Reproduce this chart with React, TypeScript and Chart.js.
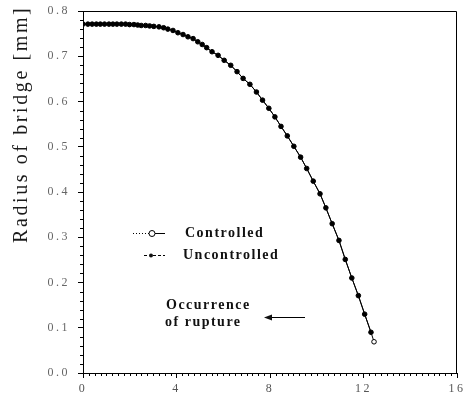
import { useEffect, useRef } from 'react';
import { Chart, registerables } from 'chart.js';
Chart.register(...registerables);

const timeValues = [0, 0.21, 0.39, 0.57, 0.74, 0.92, 1.11, 1.28, 1.45, 1.64, 1.82, 1.99, 2.18, 2.34, 2.49, 2.68, 2.85, 3.03, 3.25, 3.45, 3.63, 3.85, 4.06, 4.28, 4.49, 4.71, 4.91, 5.10, 5.29, 5.52, 5.78, 6.04, 6.32, 6.59, 6.85, 7.14, 7.42, 7.68, 7.95, 8.21, 8.47, 8.74, 9.02, 9.31, 9.57, 9.85, 10.14, 10.39, 10.66, 10.95, 11.22, 11.50, 11.78, 12.05, 12.32, 12.45];

const controlledRadius = [0.771, 0.771, 0.771, 0.771, 0.771, 0.771, 0.771, 0.771, 0.771, 0.771, 0.771, 0.770, 0.770, 0.769, 0.768, 0.768, 0.767, 0.766, 0.765, 0.763, 0.760, 0.757, 0.752, 0.748, 0.743, 0.739, 0.732, 0.726, 0.719, 0.710, 0.702, 0.691, 0.680, 0.666, 0.651, 0.638, 0.621, 0.603, 0.585, 0.566, 0.545, 0.524, 0.501, 0.477, 0.452, 0.424, 0.396, 0.365, 0.330, 0.293, 0.251, 0.210, 0.171, 0.130, 0.090, 0.069];

const uncontrolledRadius = [0.771, 0.771, 0.771, 0.771, 0.771, 0.771, 0.771, 0.771, 0.771, 0.771, 0.771, 0.770, 0.770, 0.769, 0.768, 0.768, 0.767, 0.766, 0.765, 0.763, 0.760, 0.757, 0.752, 0.748, 0.743, 0.739, 0.732, 0.726, 0.719, 0.710, 0.702, 0.691, 0.680, 0.666, 0.651, 0.638, 0.621, 0.603, 0.585, 0.566, 0.545, 0.524, 0.501, 0.477, 0.452, 0.424, 0.396, 0.365, 0.330, 0.293, 0.251, 0.210, 0.171, 0.130, 0.090, null];

const seriesLabels = ['Controlled', 'Uncontrolled'];
const xTickLabels = ['0', '4', '8', '12', '16'];
const yTickLabels = ['0.0', '0.1', '0.2', '0.3', '0.4', '0.5', '0.6', '0.7', '0.8'];
const yAxisTitle = 'Radius of bridge [mm]';
const annotationLines = ['Occurrence', 'of rupture'];

const decorPlugin = {
  id: 'decor',
  beforeDraw(chart: any) {
    chart.ctx.letterSpacing = '2.5px';
  },
  afterDraw(chart: any) {
    const ctx = chart.ctx;
    ctx.letterSpacing = '0px';
    const { left, right, top, bottom } = chart.chartArea;
    const xs = chart.scales.x;
    const ys = chart.scales.y;
    ctx.save();
    ctx.strokeStyle = '#000';
    ctx.lineWidth = 1;
    // frame
    ctx.beginPath();
    ctx.moveTo(left, top + 0.5);
    ctx.lineTo(right - 0.5, top + 0.5);
    ctx.lineTo(right - 0.5, bottom);
    ctx.stroke();
    // minor ticks
    ctx.beginPath();
    for (let i = 0; i <= 64; i++) {
      if (i % 16 === 0) continue;
      const px = Math.round(xs.getPixelForValue(i * 0.25)) + 0.5;
      ctx.moveTo(px, bottom);
      ctx.lineTo(px, bottom + 3);
    }
    for (let i = 0; i <= 40; i++) {
      if (i % 5 === 0) continue;
      const py = Math.round(ys.getPixelForValue(i * 0.02)) + 0.5;
      ctx.moveTo(left, py);
      ctx.lineTo(left - 3, py);
    }
    ctx.stroke();

    // y axis title
    ctx.save();
    ctx.fillStyle = '#1a1a1a';
    ctx.font = '20px "Liberation Serif"';
    ctx.letterSpacing = '2.6px';
    ctx.textAlign = 'left';
    ctx.textBaseline = 'alphabetic';
    ctx.translate(27, top + 232);
    ctx.rotate(-Math.PI / 2);
    ctx.fillText(yAxisTitle, 0, 0);
    ctx.restore();

    // legend
    const lx = left;
    const ly = top;
    ctx.fillStyle = '#111';
    ctx.font = 'bold 14px "Liberation Serif"';
    ctx.letterSpacing = '1.5px';
    ctx.textAlign = 'left';
    ctx.textBaseline = 'middle';
    // controlled
    ctx.beginPath();
    ctx.setLineDash([1, 2]);
    ctx.moveTo(lx + 50, ly + 222.5);
    ctx.lineTo(lx + 66, ly + 222.5);
    ctx.stroke();
    ctx.setLineDash([]);
    ctx.beginPath();
    ctx.moveTo(lx + 72, ly + 222.5);
    ctx.lineTo(lx + 82, ly + 222.5);
    ctx.stroke();
    ctx.beginPath();
    ctx.arc(lx + 69, ly + 222.5, 3, 0, Math.PI * 2);
    ctx.fillStyle = '#fff';
    ctx.fill();
    ctx.stroke();
    ctx.fillStyle = '#111';
    ctx.fillText(seriesLabels[0], lx + 102, ly + 222);
    // uncontrolled
    ctx.beginPath();
    ctx.setLineDash([3, 2]);
    ctx.moveTo(lx + 61, ly + 244.5);
    ctx.lineTo(lx + 66, ly + 244.5);
    ctx.moveTo(lx + 70, ly + 244.5);
    ctx.lineTo(lx + 82, ly + 244.5);
    ctx.stroke();
    ctx.setLineDash([]);
    ctx.beginPath();
    ctx.arc(lx + 68, ly + 244.5, 2, 0, Math.PI * 2);
    ctx.fill();
    ctx.fillText(seriesLabels[1], lx + 100, ly + 244);

    // annotation
    ctx.fillText(annotationLines[0], lx + 83, ly + 294);
    ctx.fillText(annotationLines[1], lx + 82, ly + 311);
    ctx.beginPath();
    ctx.moveTo(lx + 186, ly + 306.5);
    ctx.lineTo(lx + 222, ly + 306.5);
    ctx.stroke();
    ctx.beginPath();
    ctx.moveTo(lx + 181, ly + 306.5);
    ctx.lineTo(lx + 189, ly + 303.5);
    ctx.lineTo(lx + 189, ly + 309.5);
    ctx.closePath();
    ctx.fill();
    ctx.restore();
  },
};

export default function App() {
  const ref = useRef<HTMLCanvasElement | null>(null);
  useEffect(() => {
    document.body.style.margin = '0';
    const canvas = ref.current;
    if (!canvas) return;
    const chart = new Chart(canvas, {
      type: 'scatter',
      data: {
        datasets: [
          {
            label: seriesLabels[1],
            data: timeValues.map((t, i) => ({ x: t, y: uncontrolledRadius[i] })),
            showLine: true,
            borderColor: '#000',
            borderWidth: 1,
            backgroundColor: '#000',
            pointRadius: 2.3,
            pointBorderWidth: 0,
            pointBackgroundColor: '#000',
            spanGaps: false,
          },
          {
            label: seriesLabels[0],
            data: timeValues.map((t, i) => ({ x: t, y: controlledRadius[i] })),
            showLine: true,
            borderColor: '#000',
            borderWidth: 1,
            pointRadius: 2.3,
            pointBorderWidth: 1,
            pointBorderColor: '#000',
            pointBackgroundColor: '#fff',
          },
        ],
      },
      options: {
        animation: false,
        responsive: true,
        maintainAspectRatio: false,
        layout: { padding: { left: 0, right: 9, top: 11, bottom: 0 } },
        plugins: { legend: { display: false }, tooltip: { enabled: false } },
        scales: {
          x: {
            type: 'linear',
            min: 0,
            max: 16,
            afterBuildTicks: (s: any) => {
              s.ticks = xTickLabels.map((l) => ({ value: Number(l) }));
            },
            afterFit: (s: any) => {
              s.height = 25;
              s.paddingLeft = 0;
              s.paddingRight = 0;
            },
            ticks: {
              callback: (_v: any, i: number) => xTickLabels[i],
              color: '#555',
              font: { family: '"Liberation Serif"', size: 12 },
              padding: 4,
              maxRotation: 0,
              autoSkip: false,
            },
            grid: { drawOnChartArea: false, drawTicks: true, tickLength: 5, tickColor: '#000' },
            border: { display: true, color: '#000', width: 1 },
          },
          y: {
            type: 'linear',
            min: 0,
            max: 0.8,
            afterBuildTicks: (s: any) => {
              s.ticks = yTickLabels.map((l) => ({ value: parseFloat(l) }));
            },
            afterFit: (s: any) => {
              s.width = 83;
              s.paddingTop = 0;
              s.paddingBottom = 0;
            },
            ticks: {
              callback: (_v: any, i: number) => yTickLabels[i],
              color: '#666',
              font: { family: '"Liberation Serif"', size: 12 },
              padding: 8,
              autoSkip: false,
            },
            grid: { drawOnChartArea: false, drawTicks: true, tickLength: 5, tickColor: '#000' },
            border: { display: true, color: '#000', width: 1 },
          },
        },
      },
      plugins: [decorPlugin],
    });
    return () => chart.destroy();
  }, []);
  return (
    <div style={{ width: 466, height: 398, position: 'relative', background: '#fff' }}>
      <canvas ref={ref} />
    </div>
  );
}
